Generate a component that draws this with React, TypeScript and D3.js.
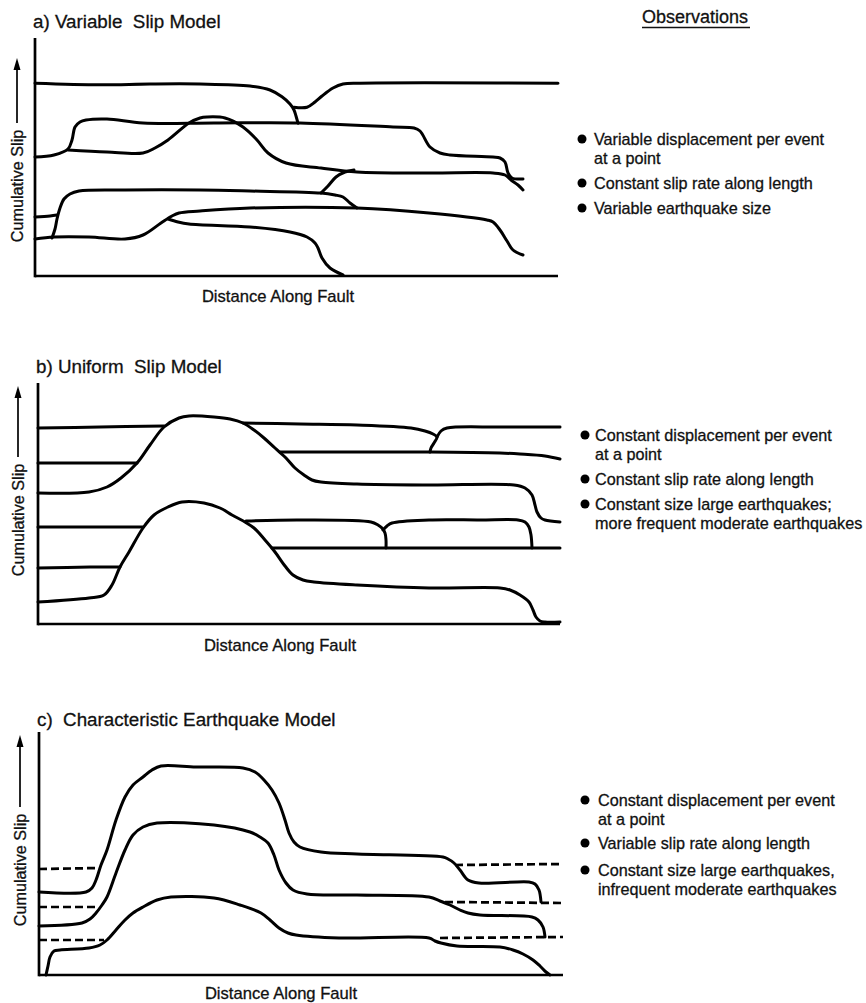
import React from "react";
import * as d3 from "d3";

type Pt = [number, number];

// Units: distance along fault (arbitrary km, 0..105), cumulative slip (arbitrary units, 0..60)

// ---------- Panel a: Variable slip model ----------
const aEventTopLeft: Pt[] = [[0,48.2],[13,47.8],[23,48],[33,48],[43,47.5],[47,46.5],[49.4,44.8],[51,43],[51.8,41.5],[52.2,40],[52.6,38.2]];
const aEventTopRight: Pt[] = [[51.8,42.2],[54.4,42.2],[56,43.5],[57.4,45],[59.6,47],[61.6,48],[65,48.2],[104.6,48.2]];
const aEvent2: Pt[] = [[0,29.75],[3.8,30.25],[6.6,31.75],[7.4,34],[8,37.25],[9,38.5],[10.2,39],[14.4,39.25],[21.6,38.25],[35.8,38.25],[53,38.25],[71.6,37.25],[75.8,37],[77,36.25],[79,32.25],[81,30.75],[83,30.25],[91.6,29.75],[93,29.5],[94,28.5],[94.6,25.75],[95.4,24.5],[97.6,24.25]];
const aEvent3: Pt[] = [[6.6,31.5],[14.4,31],[21.6,30.75],[24,32],[26.6,34],[30.8,38.25],[33,39.5],[34.4,39.75],[38,39.5],[41.6,37.25],[44.4,34],[46.6,30.75],[50.2,28.25],[57.2,27],[64.4,26],[78.8,25.75],[91.6,25.75],[94,25.25],[95.2,24],[96.6,22.75],[97.6,21.5]];
const aEvent4Stub: Pt[] = [[0,14.75],[3,15],[4.4,15.25]];
const aEvent4: Pt[] = [[3.4,9.5],[4,11.75],[4.4,14.25],[5,17],[5.8,19.25],[7,20.5],[8.8,21.25],[18,21.5],[33,21.5],[43,21.25],[57.2,20.75],[60,20.25],[61.6,19.75],[63,18.25],[64.4,17]];
const aEvent4Branch: Pt[] = [[57.2,20.75],[58.6,22.5],[60.2,24.75],[62,26],[63.8,26.5]];
const aEvent5: Pt[] = [[0,9.25],[3.8,9.75],[10.8,9.75],[18,9.25],[21.6,10.25],[25.2,13.25],[27.4,15],[28.8,15.75],[33,16.25],[43,17],[64.4,17],[78.8,15.75],[90.4,14],[91.6,13.5],[93,11.5],[94.4,8.75],[95.6,6.5],[97.6,5.25]];
const aEvent6: Pt[] = [[26.6,14.25],[28.6,13.5],[30.8,13],[43,12.25],[51,11],[54.4,9.75],[56,8.25],[56.6,7],[57.4,4.5],[59,2],[61.6,0.25]];

// ---------- Panel b: Uniform slip model ----------
const bTopLeft: Pt[] = [[0,49],[12.4,49.25],[25.2,49.5]];
const bHumpUpper: Pt[] = [[0,32.75],[10.2,33],[13.8,34.25],[16.6,36.5],[19.8,40.25],[22.4,44.75],[25.2,49.25],[28.2,51.5],[30.2,52],[35.2,51.75],[38.4,51.25],[41,50.25],[43.2,48.5],[45.2,46.5],[47.4,44],[49.6,41.5],[51.4,39],[53.2,37.25],[54.8,36],[56.6,35.5],[63.8,35],[78.2,34.75],[95.2,34.75],[97.4,34],[98.8,32.25],[99.4,29.75],[99.8,28],[100.6,26.5],[101.4,26],[104.4,25.5]];
const bTopMid: Pt[] = [[41,50.25],[52.4,50],[63.8,49.75],[74.6,49],[77.4,48.25],[79,47.5],[79.8,46.75],[79.2,45.25],[78.6,44],[78.4,43]];
const bTopRight: Pt[] = [[79.8,46.75],[80.6,48.25],[81.8,49],[92.4,49.25],[104.4,49.25]];
const bSecondLeft: Pt[] = [[0,40.25],[12.4,40.25],[19.8,40.25]];
const bSecondRight: Pt[] = [[48.4,43],[62.4,43],[78.4,43],[92.4,42.75],[96.4,42.5],[101.4,42],[104.4,41.25]];
const bFourthLeft: Pt[] = [[0,24.25],[12.4,24.25],[21,24.25]];
const bFourthMid: Pt[] = [[41.6,25.75],[52.4,26],[66.6,25.5],[68,24.75],[68.8,24],[69.4,22.75],[69.6,21],[69.6,19]];
const bFourthRight: Pt[] = [[69,23.5],[69.8,24.5],[70.8,25.25],[78.2,26],[88.4,26],[96,26],[97.4,25.5],[98.2,24.25],[98.6,22.25],[98.8,19]];
const bFifthLeft: Pt[] = [[0,14],[10.4,14.25],[16.4,14.25]];
const bFifthRight: Pt[] = [[46.8,19],[62.4,19],[82.4,19],[104.4,19]];
const bHumpLower: Pt[] = [[0,5.5],[10.2,6.5],[13.2,7.25],[14.8,9.75],[16.4,14.25],[18.2,18],[21,24],[23.2,27.25],[26,29.25],[28.8,30.5],[33.2,30.25],[36.4,29],[38.8,27.25],[41.4,25.5],[43.2,24],[45.4,21],[47.4,18],[49.4,14.5],[51,12.25],[53,11],[55.2,10.5],[63.8,9.75],[78.2,9],[92.4,9],[94.4,8.5],[96.4,7.25],[98.2,5.5],[99,3.5],[99.6,1.75],[100.4,0.75],[101.4,0.5],[104.4,0.5]];

// ---------- Panel c: Characteristic earthquake model ----------
const cHump1: Pt[] = [[0,20.75],[9.4,20.75],[10.6,21.75],[11.4,23.75],[12.4,27.5],[13.6,31.25],[15.4,38.75],[17.2,44.5],[18.8,47.5],[20.8,49.5],[22.6,51.25],[24.4,52.25],[31.4,52],[40.8,51.75],[43.2,50.75],[45,48.75],[46.6,46.25],[48,43],[49.2,38.75],[50,35.5],[51,33.25],[52.2,32],[56.4,30.75],[63.6,30.25],[80.8,29.5],[81.8,29],[83,28],[84.2,26.25],[85.8,23.75],[88,23],[98,23.25],[99.2,22.75],[100,21.25],[100.4,18.25]];
const cHump2: Pt[] = [[0,12.25],[8.6,13],[10.2,14],[11.4,15.5],[12.6,17.5],[13.6,19.5],[15.4,25.5],[17.2,31.25],[18.8,35],[20.8,37],[23.6,38],[35,37.5],[42.2,35.75],[44.2,34.5],[45.8,33],[47,30],[48,26.25],[49.4,23],[50.8,21.25],[53.6,20.25],[63.6,20],[78,19.5],[80.2,18.5],[82.2,17.5],[84.2,16.25],[85.8,15.5],[88.2,15],[98.6,14.5],[99.8,13.75],[100.8,12],[101.2,9.5]];
const cHump3: Pt[] = [[1.4,0],[1.8,2.25],[2.2,4.5],[3,6],[4.2,6.25],[10,6.75],[12.2,7.5],[13.6,8.75],[15.4,11.25],[17.2,13.75],[18.8,15.5],[20.8,17],[23.6,18.75],[26.4,19.5],[35,19.25],[40.2,17.5],[44.4,15.5],[46.2,13.75],[48,11.75],[49.8,10.5],[51.4,10],[60,9.25],[78,9.25],[79.2,8.5],[80.4,8],[83.6,7.25],[92.2,7],[94.8,6.25],[96.8,5.25],[98.8,3.75],[100.2,2.25],[101.4,0.75],[102.2,0]];
const cDash1Left: Pt[] = [[0,26.5],[12.2,26.75]];
const cDash1Right: Pt[] = [[83.2,27.5],[104.8,27.75]];
const cDash2Left: Pt[] = [[0,17],[11.8,17]];
const cDash2Right: Pt[] = [[81.2,18.25],[104.8,18]];
const cDash3Left: Pt[] = [[0,8.75],[13,8.75]];
const cDash3Right: Pt[] = [[80.2,9.25],[104.8,9.5]];

// ---------- Text ----------
const titles = ["a) Variable  Slip Model", "b) Uniform  Slip Model", "c)  Characteristic Earthquake Model"];
const yLabel = "Cumulative Slip";
const xLabel = "Distance Along Fault";
const observationsHeader = "Observations";
const obsA: string[][] = [["Variable displacement per event", "at a point"], ["Constant slip rate along length"], ["Variable earthquake size"]];
const obsB: string[][] = [["Constant displacement per event", "at a point"], ["Constant slip rate along length"], ["Constant size large earthquakes;", "more frequent moderate earthquakes"]];
const obsC: string[][] = [["Constant displacement per event", "at a point"], ["Variable slip rate along length"], ["Constant size large earthquakes,", "infrequent moderate earthquakes"]];

const FONT = "'Liberation Sans', Arial, Helvetica, sans-serif";
const INK = "#111";

type PanelCfg = {
  title: string; titleX: number; titleY: number;
  left: number; bottom: number; yTop: number; xEnd: number;
  solid: Pt[][]; dashed: Pt[][];
  arrowX: number; labelCenter: number; arrowTip: number;
  xLabelX: number; xLabelY: number;
  obs: string[][]; bulletX: number; textX: number; bulletYs: number[];
};

const panels: PanelCfg[] = [
  { title: titles[0], titleX: 33, titleY: 28, left: 35, bottom: 276, yTop: 59.5, xEnd: 104.6,
    solid: [aEventTopLeft, aEventTopRight, aEvent2, aEvent3, aEvent4Stub, aEvent4, aEvent4Branch, aEvent5, aEvent6], dashed: [],
    arrowX: 17, labelCenter: 186, arrowTip: 58, xLabelX: 278, xLabelY: 302,
    obs: obsA, bulletX: 582, textX: 594, bulletYs: [139, 183, 208] },
  { title: titles[1], titleX: 36, titleY: 373, left: 38, bottom: 624, yTop: 60.25, xEnd: 104.4,
    solid: [bTopLeft, bHumpUpper, bTopMid, bTopRight, bSecondLeft, bSecondRight, bFourthLeft, bFourthMid, bFourthRight, bFifthLeft, bFifthRight, bHumpLower], dashed: [],
    arrowX: 18, labelCenter: 520, arrowTip: 386, xLabelX: 280, xLabelY: 651,
    obs: obsB, bulletX: 585, textX: 595, bulletYs: [435, 479, 504] },
  { title: titles[2], titleX: 37, titleY: 726, left: 39, bottom: 975, yTop: 60.75, xEnd: 104.8,
    solid: [cHump1, cHump2, cHump3], dashed: [cDash1Left, cDash1Right, cDash2Left, cDash2Right, cDash3Left, cDash3Right],
    arrowX: 20, labelCenter: 870, arrowTip: 735, xLabelX: 281, xLabelY: 999,
    obs: obsC, bulletX: 585, textX: 598, bulletYs: [800, 843, 870] },
];

const textStyle = { stroke: INK, strokeWidth: 0.3 } as const;

function Panel({ p }: { p: PanelCfg }) {
  const x = d3.scaleLinear().domain([0, 105]).range([p.left, p.left + 525]);
  const y = d3.scaleLinear().domain([0, 60]).range([p.bottom, p.bottom - 240]);
  const line = d3.line<Pt>().x(d => x(d[0])).y(d => y(d[1])).curve(d3.curveCatmullRom.alpha(0.5));
  const fs = 16.2;
  const half = 57;
  const labelTop = p.labelCenter - half;
  return (
    <g>
      <text x={p.titleX} y={p.titleY} fontFamily={FONT} fontSize={18.8} fill={INK} {...textStyle} style={{ whiteSpace: "pre" }}>{p.title}</text>
      {/* axes */}
      <line x1={x(0)} y1={y(p.yTop)} x2={x(0)} y2={y(0) + 1.3} stroke="#000" strokeWidth={2.7} />
      <line x1={x(0)} y1={y(0)} x2={x(p.xEnd)} y2={y(0)} stroke="#000" strokeWidth={2.7} />
      {/* y label + arrow */}
      <text transform={`translate(${p.arrowX + 6},${p.labelCenter}) rotate(-90)`} textAnchor="middle" fontFamily={FONT} fontSize={fs} fill={INK} {...textStyle}>{yLabel}</text>
      <line x1={p.arrowX} y1={labelTop - 6} x2={p.arrowX} y2={p.arrowTip + 8} stroke="#000" strokeWidth={1.7} />
      <path d={`M${p.arrowX},${p.arrowTip} L${p.arrowX - 3.5},${p.arrowTip + 12} L${p.arrowX + 3.5},${p.arrowTip + 12} Z`} fill="#000" />
      <text x={p.xLabelX} y={p.xLabelY} textAnchor="middle" fontFamily={FONT} fontSize={16.6} fill={INK} {...textStyle}>{xLabel}</text>
      {/* curves */}
      {p.solid.map((pts, i) => (
        <path key={"s" + i} d={line(pts) || ""} fill="none" stroke="#000" strokeWidth={3} strokeLinecap="round" strokeLinejoin="round" />
      ))}
      {p.dashed.map((pts, i) => (
        <path key={"d" + i} d={line(pts) || ""} fill="none" stroke="#000" strokeWidth={2.7} strokeDasharray="8,4" />
      ))}
      {/* observations */}
      {p.obs.map((item, i) => {
        const by = p.bulletYs[i];
        return (
          <g key={"o" + i}>
            <circle cx={p.bulletX} cy={by} r={4.5} fill="#000" />
            {item.map((t, j) => (
              <text key={j} x={p.textX} y={by + 5.5 + j * 19} fontFamily={FONT} fontSize={fs} fill={INK} {...textStyle}>{t}</text>
            ))}
          </g>
        );
      })}
    </g>
  );
}

export default function App() {
  return (
    <svg width={866} height={1003} style={{ position: "absolute", left: 0, top: 0, background: "#fff" }}>
      <rect x={0} y={0} width={866} height={1003} fill="#fff" />
      <text x={642} y={23} fontFamily={FONT} fontSize={18} fill={INK} {...textStyle}>{observationsHeader}</text>
      <line x1={642} y1={27.5} x2={750} y2={27.5} stroke={INK} strokeWidth={1.5} />
      {panels.map((p, i) => <Panel key={i} p={p} />)}
    </svg>
  );
}
